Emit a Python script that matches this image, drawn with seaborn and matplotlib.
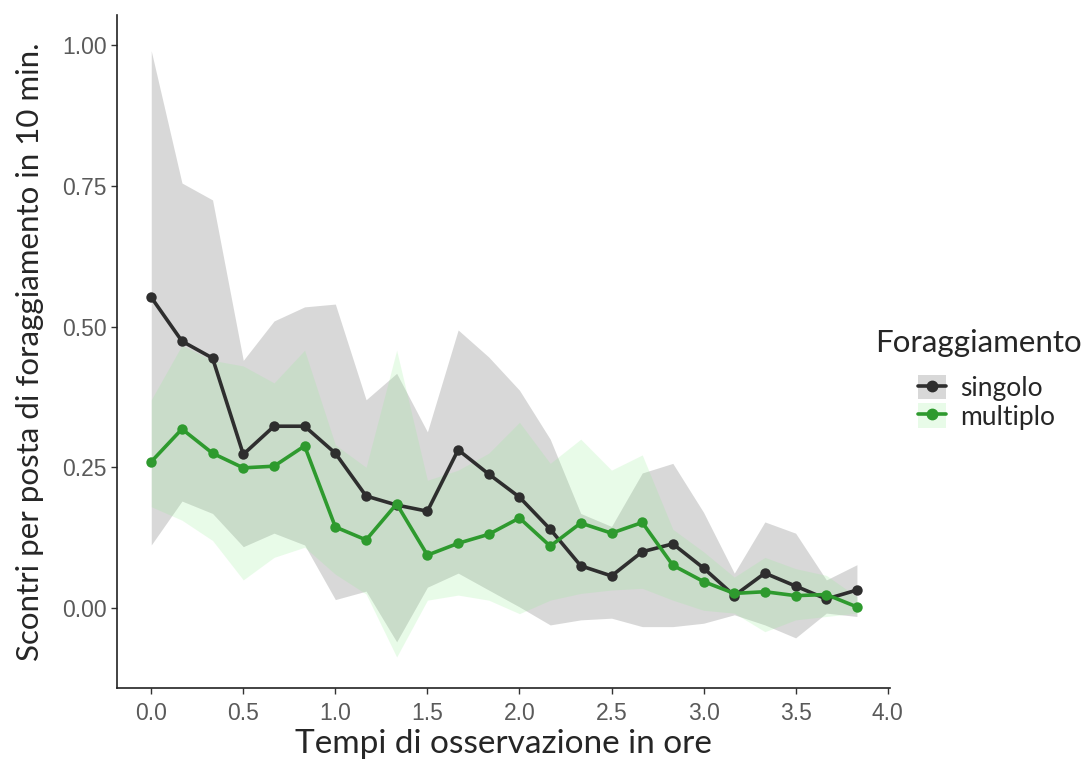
import matplotlib.pyplot as plt
import seaborn as sns
import pandas as pd
from matplotlib.patches import Patch
from matplotlib.lines import Line2D

# Tempi (ore) e medie con intervalli per i due tipi di foraggiamento
tempi = [0.0, 0.167, 0.333, 0.5, 0.667, 0.833, 1.0, 1.167, 1.333, 1.5, 1.667, 1.833,
         2.0, 2.167, 2.333, 2.5, 2.667, 2.833, 3.0, 3.167, 3.333, 3.5, 3.667, 3.833]

singolo_media = [0.552, 0.474, 0.444, 0.273, 0.323, 0.323, 0.275, 0.199, 0.183, 0.172, 0.281, 0.238,
                 0.197, 0.140, 0.075, 0.057, 0.100, 0.114, 0.071, 0.022, 0.062, 0.039, 0.016, 0.032]
singolo_sup = [0.99, 0.755, 0.725, 0.44, 0.51, 0.535, 0.54, 0.37, 0.417, 0.313, 0.494, 0.446,
               0.387, 0.30, 0.168, 0.145, 0.24, 0.257, 0.17, 0.062, 0.153, 0.133, 0.05, 0.077]
singolo_inf = [0.112, 0.19, 0.168, 0.109, 0.133, 0.112, 0.015, 0.03, -0.06, 0.037, 0.062, 0.032,
               0.002, -0.03, -0.021, -0.018, -0.033, -0.033, -0.027, -0.012, -0.03, -0.053, -0.009, -0.015]

multiplo_media = [0.260, 0.318, 0.275, 0.249, 0.252, 0.288, 0.144, 0.121, 0.185, 0.094, 0.115, 0.131,
                  0.160, 0.110, 0.151, 0.133, 0.152, 0.076, 0.047, 0.026, 0.029, 0.022, 0.024, 0.002]
multiplo_sup = [0.37, 0.467, 0.44, 0.43, 0.40, 0.458, 0.29, 0.25, 0.458, 0.227, 0.245, 0.275,
                0.33, 0.257, 0.30, 0.245, 0.272, 0.14, 0.10, 0.055, 0.09, 0.07, 0.058, 0.02]
multiplo_inf = [0.18, 0.156, 0.12, 0.05, 0.09, 0.108, 0.06, 0.025, -0.087, 0.014, 0.023, 0.014,
                -0.01, 0.014, 0.026, 0.032, 0.035, 0.014, -0.004, -0.009, -0.042, -0.021, -0.015, -0.009]

gruppi = ["singolo", "multiplo"]
colori_linea = {"singolo": "#2e2e2e", "multiplo": "#2e9a2e"}
colori_banda = {"singolo": ("#808080", 0.3), "multiplo": ("#90ee90", 0.2)}

df = pd.DataFrame({
    "tempo": tempi * 2,
    "media": singolo_media + multiplo_media,
    "sup": singolo_sup + multiplo_sup,
    "inf": singolo_inf + multiplo_inf,
    "gruppo": ["singolo"] * len(tempi) + ["multiplo"] * len(tempi),
})

sns.set_style("white")
plt.rcParams["font.family"] = ["Liberation Sans", "DejaVu Sans"]
lato = ["Lato", "DejaVu Sans"]

fig = plt.figure(figsize=(10.85, 7.64), dpi=100)
ax = fig.add_axes([0.108, 0.0995, 0.712, 0.8805])

for g in gruppi:
    d = df[df["gruppo"] == g]
    fc, a = colori_banda[g]
    ax.fill_between(d["tempo"], d["inf"], d["sup"], color=fc, alpha=a, linewidth=0)
    sns.lineplot(data=d, x="tempo", y="media", color=colori_linea[g], marker="o",
                 markersize=7.5, markeredgewidth=0, linewidth=2.6, ax=ax, legend=False)

ax.set_xlim(-0.185, 4.011)
ax.set_ylim(-0.142, 1.053)
ax.set_xticks([0, 0.5, 1.0, 1.5, 2.0, 2.5, 3.0, 3.5, 4.0])
ax.set_xticklabels(["0.0", "0.5", "1.0", "1.5", "2.0", "2.5", "3.0", "3.5", "4.0"])
ax.set_yticks([0, 0.25, 0.5, 0.75, 1.0])
ax.set_yticklabels(["0.00", "0.25", "0.50", "0.75", "1.00"])
ax.tick_params(axis="both", length=4, width=1, color="#333333", labelsize=16.5,
               labelcolor="#5a5a5a", direction="out", bottom=True, left=True)
ax.tick_params(axis="x", pad=6)

for s in ["top", "right"]:
    ax.spines[s].set_visible(False)
for s in ["left", "bottom"]:
    ax.spines[s].set_color("#222222")
    ax.spines[s].set_linewidth(1.2)

ax.set_xlabel("Tempi di osservazione in ore", fontsize=24, family=lato, labelpad=3)
ax.set_ylabel("Scontri per posta di foraggiamento in 10 min.", fontsize=22.5,
              family=lato, labelpad=13)

# legenda: titolo separato, chiavi rientrate
fig.text(875 / 1085, 1 - 343 / 764, "Foraggiamento", fontsize=22.5, family=lato,
         ha="left", va="center")
handles = []
for g in gruppi:
    fc, a = colori_banda[g]
    handles.append((Patch(facecolor=fc, alpha=a, edgecolor="none"),
                    Line2D([], [], color=colori_linea[g], marker="o", markersize=7.5, linewidth=2.6)))
leg = fig.legend(handles, gruppi, loc="upper left", bbox_to_anchor=(918 / 1085, 1 - 375 / 764),
                 frameon=False, handlelength=1.05, handleheight=1.05, borderpad=0,
                 borderaxespad=0, prop={"family": lato, "size": 19}, labelspacing=0.08,
                 handletextpad=0.55)

fig.savefig("out.png", dpi=100)
